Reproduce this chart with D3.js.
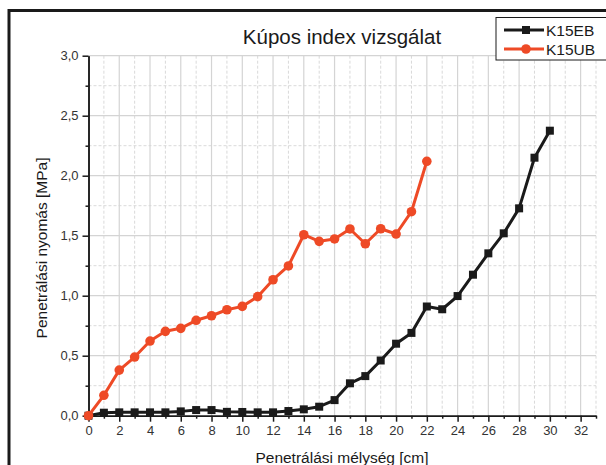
<!DOCTYPE html>
<html>
<head>
<meta charset="utf-8">
<script src="https://cdn.jsdelivr.net/npm/d3@7"></script>
<style>
  html, body { margin: 0; padding: 0; background: #fff; }
  svg { display: block; font-family: "Liberation Sans", Arial, sans-serif; }
</style>
</head>
<body>
<svg id="chart" width="606" height="465"></svg>
<script>
// Depth steps [cm]
const depthEB = [0,1,2,3,4,5,6,7,8,9,10,11,12,13,14,15,16,17,18,19,20,21,22,23,24,25,26,27,28,29,30];
const depthUB = [0,1,2,3,4,5,6,7,8,9,10,11,12,13,14,15,16,17,18,19,20,21,22];
// Penetration pressure [MPa]
const pressureEB = [0,0.025,0.028,0.028,0.028,0.028,0.036,0.047,0.047,0.032,0.031,0.028,0.028,0.039,0.053,0.075,0.13,0.27,0.33,0.46,0.60,0.69,0.91,0.887,0.997,1.175,1.353,1.52,1.728,2.15,2.375];
const pressureUB = [0,0.17,0.38,0.489,0.622,0.703,0.728,0.795,0.833,0.883,0.911,0.992,1.133,1.248,1.508,1.453,1.473,1.556,1.433,1.558,1.514,1.70,2.12];

const xMajorTicks = [0,2,4,6,8,10,12,14,16,18,20,22,24,26,28,30,32];
const yMajorTicks = [0,0.5,1.0,1.5,2.0,2.5,3.0];

const seriesNames = ["K15EB", "K15UB"];
const chartTitle = "Kúpos index vizsgálat";
const xTitle = "Penetrálási mélység [cm]";
const yTitle = "Penetrálási nyomás [MPa]";

const svg = d3.select("#chart");
const plotLeft = 88.5, plotRight = 596, plotTop = 55.7, plotBottom = 415.7;

const x = d3.scaleLinear().domain([0, 33]).range([plotLeft, plotRight]);
const y = d3.scaleLinear().domain([0, 3]).range([plotBottom, plotTop]);

const fmt = d => d3.format(".1f")(d).replace(".", ",");

// outer frame
svg.append("path")
  .attr("d", `M9,465 V10.5 H606`)
  .attr("fill", "none").attr("stroke", "#1a1a1a").attr("stroke-width", 3);

// grid
const g = svg.append("g");
const xMinor = d3.range(1, 34, 2);
const yMinor = d3.range(0.25, 3, 0.5);
g.selectAll(".vminor").data(xMinor).join("line")
  .attr("x1", d => x(d)).attr("x2", d => x(d))
  .attr("y1", plotTop).attr("y2", plotBottom)
  .attr("stroke", "#cfcfcf").attr("stroke-width", 0.8).attr("stroke-dasharray", "3,2");
g.selectAll(".hminor").data(yMinor).join("line")
  .attr("x1", plotLeft).attr("x2", plotRight)
  .attr("y1", d => y(d)).attr("y2", d => y(d))
  .attr("stroke", "#cfcfcf").attr("stroke-width", 0.8).attr("stroke-dasharray", "3,2");
g.selectAll(".vmajor").data(xMajorTicks.filter(d => d > 0)).join("line")
  .attr("x1", d => x(d)).attr("x2", d => x(d))
  .attr("y1", plotTop).attr("y2", plotBottom)
  .attr("stroke", "#d4d4d4").attr("stroke-width", 1.2);
g.selectAll(".hmajor").data(yMajorTicks.filter(d => d > 0)).join("line")
  .attr("x1", plotLeft).attr("x2", plotRight)
  .attr("y1", d => y(d)).attr("y2", d => y(d))
  .attr("stroke", "#d4d4d4").attr("stroke-width", 1.2);

// axes
const xAxis = d3.axisBottom(x).tickValues(xMajorTicks).tickFormat(d3.format("d")).tickSize(6).tickSizeOuter(0).tickPadding(4);
const xAxisMinor = d3.axisBottom(x).tickValues(xMinor).tickFormat("").tickSize(3).tickSizeOuter(0);
const yAxis = d3.axisLeft(y).tickValues(yMajorTicks).tickFormat(fmt).tickSize(6).tickSizeOuter(0).tickPadding(4);
const yAxisMinor = d3.axisLeft(y).tickValues(yMinor).tickFormat("").tickSize(3).tickSizeOuter(0);

function styleAxis(sel) {
  sel.select(".domain").attr("stroke", "#1a1a1a").attr("stroke-width", 1.5);
  sel.selectAll(".tick line").attr("stroke", "#1a1a1a").attr("stroke-width", 1.5);
  sel.selectAll(".tick text").attr("fill", "#333").style("font-size", "13px")
    .style("font-family", "'Liberation Sans', Arial, sans-serif");
}
svg.append("g").attr("transform", `translate(0,${plotBottom})`).call(xAxisMinor).call(styleAxis);
svg.append("g").attr("transform", `translate(0,${plotBottom})`).call(xAxis).call(styleAxis);
svg.append("g").attr("transform", `translate(${plotLeft},0)`).call(yAxisMinor).call(styleAxis);
svg.append("g").attr("transform", `translate(${plotLeft},0)`).call(yAxis).call(styleAxis);

// series
const colors = ["#1a1a1a", "#ee4a26"];
const line = d3.line().x(d => x(d[0])).y(d => y(d[1]));
const dataEB = depthEB.map((d, i) => [d, pressureEB[i]]);
const dataUB = depthUB.map((d, i) => [d, pressureUB[i]]);

svg.append("path").datum(dataEB).attr("d", line)
  .attr("fill", "none").attr("stroke", colors[0]).attr("stroke-width", 3).attr("stroke-linejoin", "round");
svg.selectAll(".sq").data(dataEB).join("rect")
  .attr("x", d => x(d[0]) - 4).attr("y", d => y(d[1]) - 4)
  .attr("width", 8).attr("height", 8).attr("fill", colors[0]);

svg.append("path").datum(dataUB).attr("d", line)
  .attr("fill", "none").attr("stroke", colors[1]).attr("stroke-width", 3).attr("stroke-linejoin", "round");
svg.selectAll(".ci").data(dataUB).join("circle")
  .attr("cx", d => x(d[0])).attr("cy", d => y(d[1])).attr("r", 4.8).attr("fill", colors[1]);

// title and axis titles
svg.append("text").attr("x", 342).attr("y", 44).attr("text-anchor", "middle")
  .style("font-size", "20.5px").attr("fill", "#1a1a1a").text(chartTitle);
svg.append("text").attr("x", 342).attr("y", 463).attr("text-anchor", "middle")
  .style("font-size", "15.5px").attr("fill", "#1a1a1a").text(xTitle);
svg.append("text").attr("transform", "translate(47,248) rotate(-90)").attr("text-anchor", "middle")
  .style("font-size", "15.5px").attr("fill", "#1a1a1a").text(yTitle);

// legend
const leg = svg.append("g");
leg.append("rect").attr("x", 496).attr("y", 17.5).attr("width", 120).attr("height", 42.5)
  .attr("fill", "#fff").attr("stroke", "#1a1a1a").attr("stroke-width", 1);
const legRows = [30, 49];
seriesNames.forEach((name, i) => {
  const ly = legRows[i];
  leg.append("line").attr("x1", 504).attr("x2", 544).attr("y1", ly).attr("y2", ly)
    .attr("stroke", colors[i]).attr("stroke-width", 3);
  if (i === 0) {
    leg.append("rect").attr("x", 522).attr("y", ly - 4).attr("width", 8).attr("height", 8).attr("fill", colors[i]);
  } else {
    leg.append("circle").attr("cx", 526).attr("cy", ly).attr("r", 4.8).attr("fill", colors[i]);
  }
  leg.append("text").attr("x", 546).attr("y", ly + 5.5).style("font-size", "15.5px")
    .attr("fill", "#1a1a1a").text(name);
});
</script>
</body>
</html>
